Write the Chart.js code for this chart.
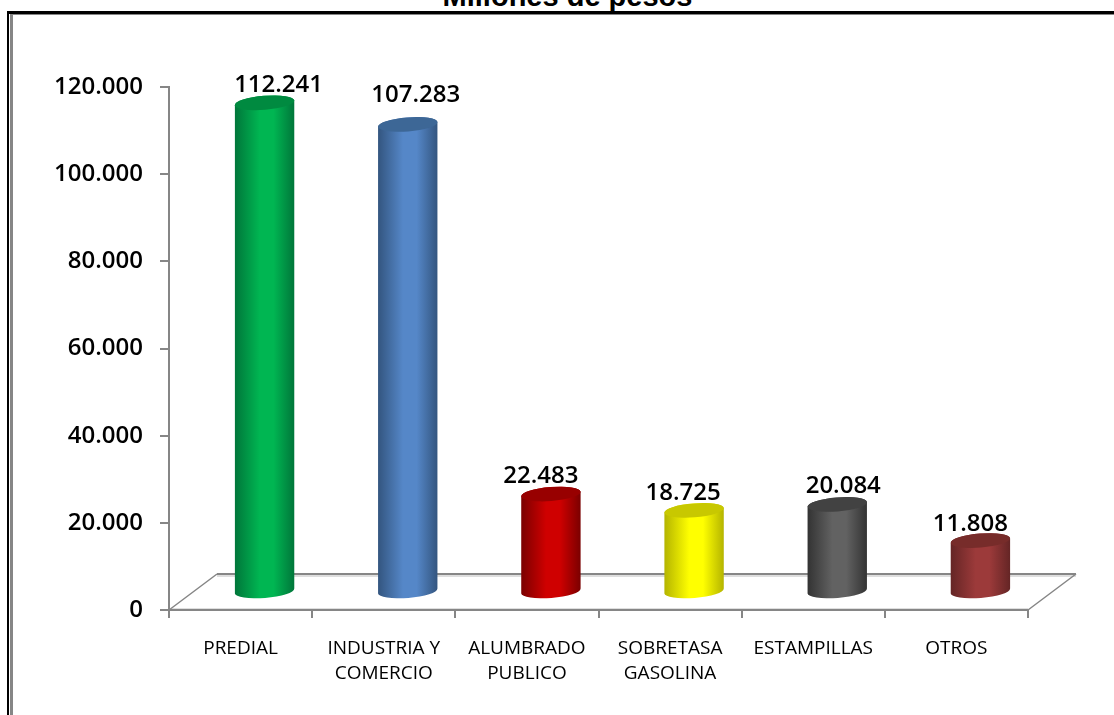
<!DOCTYPE html>
<html>
<head>
<meta charset="utf-8">
<title>Millones de pesos</title>
<script src="https://cdn.jsdelivr.net/npm/chart.js@4"></script>
<style>
  html, body { margin: 0; padding: 0; background: #fff; overflow: hidden; }
  #wrap { position: relative; width: 1114px; height: 715px; overflow: hidden; }
  #titulo { position: absolute; left: 0; width: 1135px; top: -20px; text-align: center;
            font: bold 29px "Liberation Sans", Arial, sans-serif; color: #000; }
  #marcoA { position: absolute; left: 7px; top: 11px; width: 1107px; height: 704px;
            border-left: 2px solid #000; border-top: 3px solid #000; box-sizing: border-box; }
  #marcoB { position: absolute; left: 10px; top: 14px; width: 1104px; height: 701px;
            border-left: 3px solid #868686; border-top: 1px solid #868686; box-sizing: border-box; }
  canvas { position: absolute; left: 0; top: 0; }
</style>
</head>
<body>
<div id="wrap">
  <div id="titulo">Millones de pesos</div>
  <div id="marcoA"></div>
  <div id="marcoB"></div>
  <canvas id="grafico" width="1114" height="715"></canvas>
</div>
<script>
// datos
const categorias = ['PREDIAL', ['INDUSTRIA Y', 'COMERCIO'], ['ALUMBRADO', 'PUBLICO'], ['SOBRETASA', 'GASOLINA'], 'ESTAMPILLAS', 'OTROS'];
const valores = [112241, 107283, 22483, 18725, 20084, 11808];

// colores de cada cilindro
const colorCentro = ['#00b652', '#5587c8', '#cf0000', '#ffff00', '#626262', '#9c3a3a'];
const colorBorde = ['#00763a', '#33557f', '#7a0000', '#b4b400', '#333333', '#642525'];
const colorTapa = ['#008a40', '#3d6796', '#980000', '#c8c800', '#424242', '#772c2a'];

// las etiquetas estan movidas a mano en el original
const etiquetaDx = [14, 8, -10, -11, 6, -10];
const etiquetaDy = [-18, -29, -18, -17, -18, -16];

const fuente = '"Open Sans", sans-serif';
const gris = '#868686';

function miles(v) {
  return String(v).replace(/\B(?=(\d{3})+$)/g, '.');
}

// perspectiva del piso
const fondoX = 48;
const fondoY = 36;
// el cilindro queda sobre el piso, no sobre el eje
const barraDx = 24;
const barraDy = 18;

const piso = {
  id: 'piso',
  beforeDatasetsDraw(chart) {
    const { ctx, chartArea: a } = chart;
    const y0 = chart.scales.y.getPixelForValue(0);
    ctx.save();
    ctx.fillStyle = '#dedede';
    ctx.fillRect(a.left + fondoX, y0 - fondoY, a.right - a.left, 3);
    ctx.fillRect(a.left + 3, y0 - 2, a.right - a.left - 3, 1);
    ctx.strokeStyle = gris;
    ctx.lineWidth = 2;
    ctx.beginPath();
    ctx.moveTo(a.left + fondoX, y0 - fondoY);
    ctx.lineTo(a.right + fondoX, y0 - fondoY);
    ctx.stroke();
    ctx.lineWidth = 1.5;
    ctx.beginPath();
    ctx.moveTo(a.left, y0);
    ctx.lineTo(a.left + fondoX, y0 - fondoY);
    ctx.moveTo(a.right + fondoX, y0 - fondoY);
    ctx.lineTo(a.right, y0);
    ctx.stroke();
    ctx.restore();
  }
};

const cilindros = {
  id: 'cilindros',
  beforeDatasetDraw(chart, args) {
    const { ctx } = chart;
    const tilt = -0.08;
    args.meta.data.forEach((bar, i) => {
      const cx = bar.x + barraDx;
      const rx = bar.width / 2;
      const ry = 7;
      const arriba = bar.y - barraDy;
      const abajo = bar.base - barraDy;
      const grad = ctx.createLinearGradient(cx - rx, 0, cx + rx, 0);
      grad.addColorStop(0, colorBorde[i]);
      grad.addColorStop(0.42, colorCentro[i]);
      grad.addColorStop(0.65, colorCentro[i]);
      grad.addColorStop(1, colorBorde[i]);
      ctx.save();
      ctx.fillStyle = grad;
      ctx.beginPath();
      ctx.ellipse(cx, arriba, rx, ry, tilt, Math.PI, 0);
      ctx.ellipse(cx, abajo, rx, ry, tilt, 0, Math.PI);
      ctx.closePath();
      ctx.fill();
      ctx.fillStyle = colorTapa[i];
      ctx.beginPath();
      ctx.ellipse(cx, arriba, rx, ry, tilt, 0, Math.PI * 2);
      ctx.fill();
      // valor
      ctx.fillStyle = '#000';
      ctx.font = '600 24px ' + fuente;
      ctx.textAlign = 'center';
      ctx.textBaseline = 'middle';
      ctx.fillText(miles(valores[i]), cx + etiquetaDx[i], arriba + etiquetaDy[i]);
      ctx.restore();
    });
    return false;
  }
};

new Chart(document.getElementById('grafico').getContext('2d'), {
  type: 'bar',
  data: {
    labels: categorias,
    datasets: [{
      label: 'Millones de pesos',
      data: valores,
      backgroundColor: colorCentro,
      categoryPercentage: 1,
      barPercentage: 0.416
    }]
  },
  options: {
    responsive: false,
    animation: false,
    layout: { padding: { left: 0, right: 86, top: 87, bottom: 0 } },
    plugins: { legend: { display: false }, title: { display: false }, tooltip: { enabled: false } },
    scales: {
      x: {
        afterFit(scale) { scale.height = 105; },
        border: { color: gris, width: 2 },
        grid: { drawOnChartArea: false, color: gris, lineWidth: 2, tickLength: 8 },
        ticks: {
          color: '#000',
          autoSkip: false,
          maxRotation: 0,
          padding: 18,
          font: { family: fuente, size: 19, lineHeight: 1.32 }
        }
      },
      y: {
        min: 0,
        max: 120000,
        afterFit(scale) { scale.width = 169; },
        border: { color: gris, width: 2 },
        grid: { drawOnChartArea: false, color: gris, lineWidth: 2, tickLength: 9 },
        ticks: {
          stepSize: 20000,
          color: '#000',
          padding: 17,
          font: { family: fuente, size: 24, weight: '600' },
          callback: function(value) { return miles(value); }
        }
      }
    }
  },
  plugins: [piso, cilindros]
});
</script>
</body>
</html>
